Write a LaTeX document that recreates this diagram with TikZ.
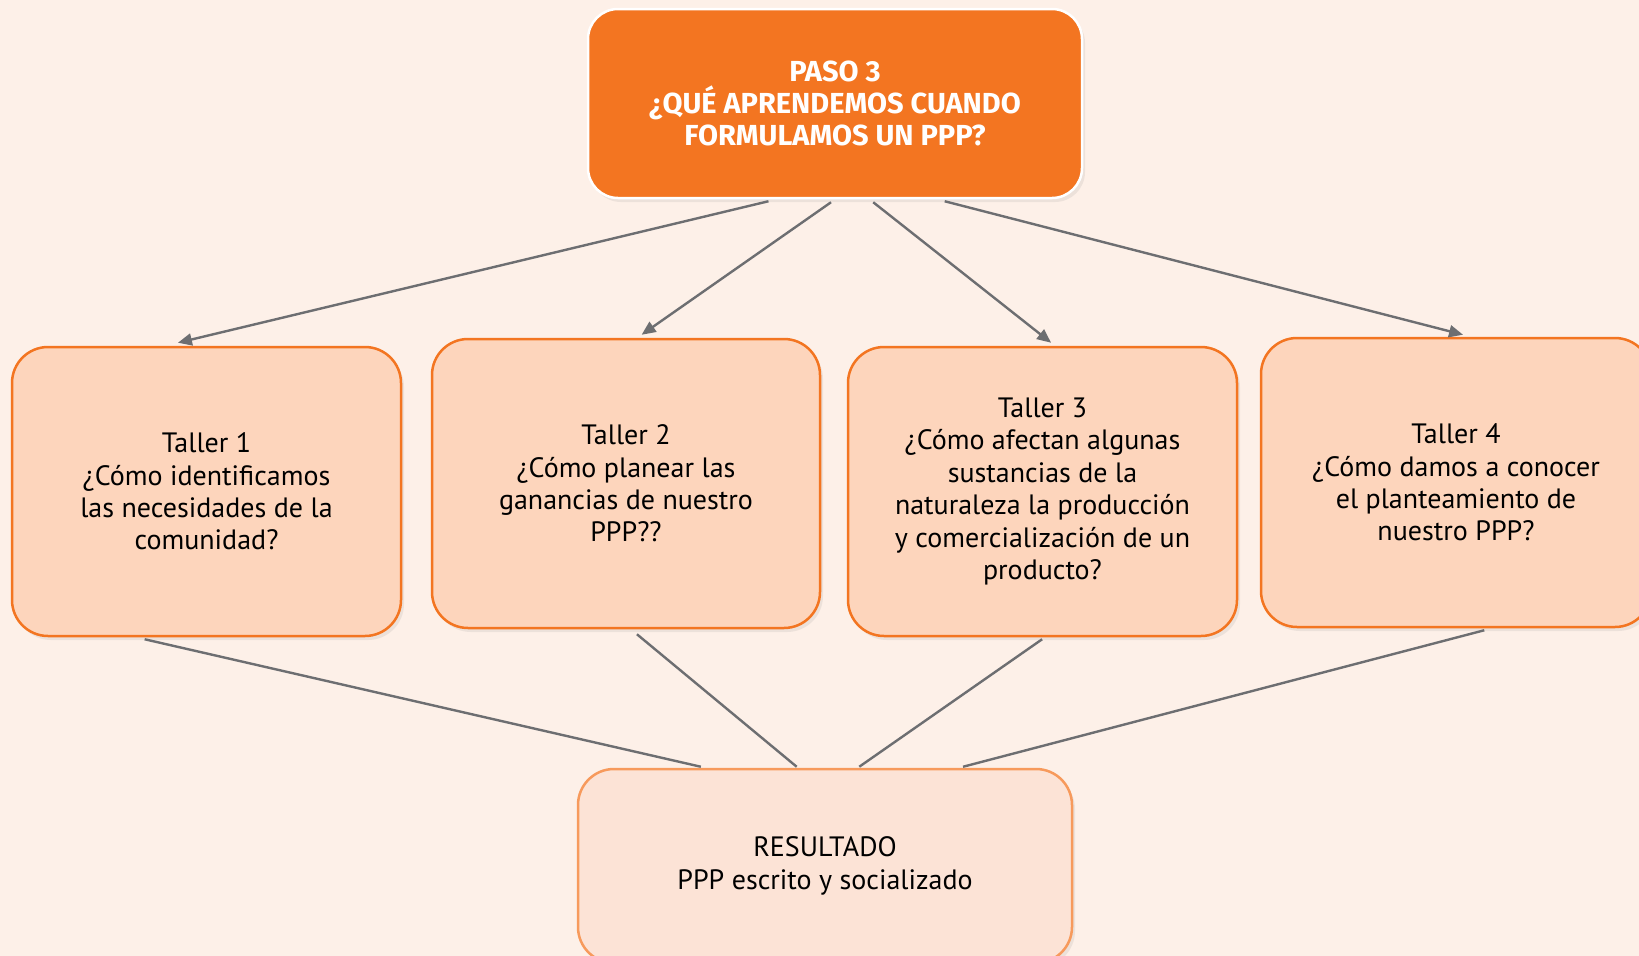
\documentclass[tikz,border=0pt]{standalone}
\usepackage{fontspec}
\setmainfont{PT Sans}
\newfontfamily\titlefont{Fira Sans}
\usetikzlibrary{calc,shadows,arrows.meta}
\definecolor{bg}{HTML}{FDF0E8}
\definecolor{orangeD}{HTML}{F37521}
\definecolor{tallerfill}{HTML}{FDD5BC}
\definecolor{resfill}{HTML}{FCE3D6}
\definecolor{resborder}{HTML}{F79A5C}
\definecolor{linegray}{HTML}{6D6E71}
\tikzset{
  shadowed/.style={drop shadow={opacity=0.13,shadow xshift=3pt,shadow yshift=-4pt}},
  titlebox/.style={shadowed,draw=white,line width=2.5pt,fill=orangeD,rounded corners=30pt,
    minimum width=494pt,minimum height=189pt,align=center,text=white,
    font=\titlefont\bfseries\fontsize{29}{32}\selectfont},
  tallerbox/.style={shadowed,draw=orangeD,line width=2.5pt,fill=tallerfill,rounded corners=36pt,
    minimum width=389pt,minimum height=289pt,align=center,text=black,
    font=\fontsize{28}{32.4}\selectfont},
  resbox/.style={shadowed,draw=resborder,line width=2.5pt,fill=resfill,rounded corners=36pt,
    minimum width=494pt,minimum height=194pt,align=center,text=black,
    font=\fontsize{28}{32.4}\selectfont},
  arr/.style={draw=linegray,line width=2.4pt,-{Triangle[length=14pt,width=12pt]}},
  conn/.style={draw=linegray,line width=2.4pt},
}
\begin{document}
\begin{tikzpicture}[x=1pt,y=-1pt]
\useasboundingbox (0,0) rectangle (1639,956);
\fill[bg] (0,0) rectangle (1639,956);
\clip (0,0) rectangle (1639,956);

\node[titlebox] (top) at (835,103.5) {PASO 3\\¿QUÉ APRENDEMOS CUANDO\\FORMULAMOS UN PPP?};

\node[tallerbox] (t1) at (206.5,491.5) {Taller 1\\¿Cómo identificamos\\las necesidades de la\\comunidad?};
\node[tallerbox,minimum width=388pt] (t2) at (626,483.5) {Taller 2\\¿Cómo planear las\\ganancias de nuestro\\PPP??};
\node[tallerbox] (t3) at (1042.5,491.5) {Taller 3\\¿Cómo afectan algunas\\sustancias de la\\naturaleza la producción\\y comercialización de un\\producto?};
\node[tallerbox,minimum width=390pt] (t4) at (1456,482.5) {Taller 4\\¿Cómo damos a conocer\\el planteamiento de\\nuestro PPP?};

\node[resbox] (res) at (825,866) {RESULTADO\\PPP escrito y socializado};

\draw[arr] ($(top.south west)!0.366!(top.south east)+(0,2)$) -- ($(t1.north west)!0.427!(t1.north east)+(0,-3)$);
\draw[arr] ($(top.south west)!0.492!(top.south east)+(0,3)$) -- ($(t2.north west)!0.54!(t2.north east)+(0,-3)$);
\draw[arr] ($(top.south west)!0.577!(top.south east)+(0,3)$) -- ($(t3.north west)!0.522!(t3.north east)+(0,-3)$);
\draw[arr] ($(top.south west)!0.721!(top.south east)+(0,2)$) -- ($(t4.north west)!0.518!(t4.north east)+(0,-2)$);

\draw[conn] ($(t1.south west)!0.342!(t1.south east)+(0,2)$) -- ($(res.north west)!0.25!(res.north east)+(0,-1)$);
\draw[conn] ($(t2.south west)!0.528!(t2.south east)+(0,5)$) -- ($(res.north west)!0.443!(res.north east)+(0,-1)$);
\draw[conn] ($(t3.south west)!0.499!(t3.south east)+(0,2)$) -- ($(res.north west)!0.569!(res.north east)+(0,-1)$);
\draw[conn] ($(t4.south west)!0.572!(t4.south east)+(0,2)$) -- ($(res.north west)!0.778!(res.north east)+(0,-1)$);
\end{tikzpicture}
\end{document}
